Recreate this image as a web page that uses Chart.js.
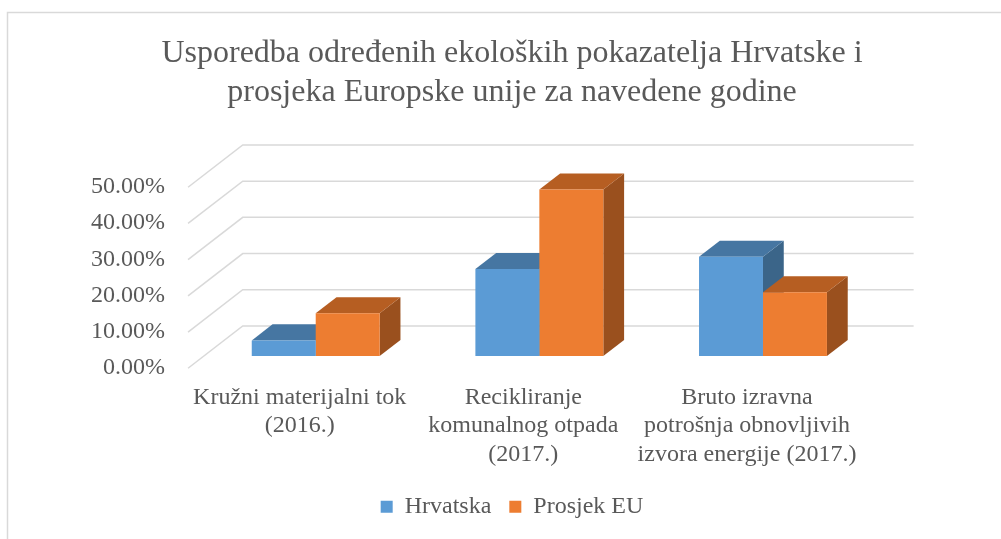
<!DOCTYPE html>
<html>
<head>
<meta charset="utf-8">
<script src="https://cdn.jsdelivr.net/npm/chart.js@4"></script>
<style>
  html, body { margin: 0; padding: 0; background: #fff; }
  #wrap { width: 1001px; height: 539px; }
</style>
</head>
<body>
<div id="wrap"><canvas id="chart" width="1001" height="539"></canvas></div>
<script>
/* ================= DATA ================= */

const categories = [
    ["Kružni materijalni tok", "(2016.)"],
    ["Recikliranje", "komunalnog otpada", "(2017.)"],
    ["Bruto izravna", "potrošnja obnovljivih", "izvora energije (2017.)"]
];
const hrvatska = [4.3, 24.0, 27.4];
const prosjekEU = [11.8, 46.0, 17.6];
const yTicks = [0, 10, 20, 30, 40, 50];

const titleLines = [
    "Usporedba određenih ekoloških pokazatelja Hrvatske i",
    "prosjeka Europske unije za navedene godine"
];

/* ================= STYLE ================= */

const FONT = "'Liberation Serif', 'Times New Roman', serif";
const TEXT = "#595959";
const GRID = "#d9d9d9";

// depth of the 3D box, and where the bars sit inside it
const DX = 54.7, DY = -42.3;
const BAR_PLANE = 0.29, BAR_DEPTH = 0.38;

const shades = [
    { front: "#5B9BD5", top: "#4676A2", side: "#3B6589" },
    { front: "#ED7D31", top: "#B65E22", side: "#9A501E" }
];

/* ================= 3D PLUGIN ================= */

const frame3d = {
    id: "frame3d",
    beforeDraw(chart) {
        const ctx = chart.ctx;
        ctx.save();
        ctx.fillStyle = "#fff";
        ctx.fillRect(0, 0, chart.width, chart.height);
        ctx.strokeStyle = GRID;
        ctx.lineWidth = 1.5;
        ctx.strokeRect(7.5, 12.5, 1100, 600);
        ctx.restore();
    },
    beforeDatasetsDraw(chart) {
        const ctx = chart.ctx;
        const area = chart.chartArea;
        const y = chart.scales.y;

        ctx.save();
        ctx.strokeStyle = GRID;
        ctx.lineWidth = 1.5;
        yTicks.forEach(v => {
            const py = y.getPixelForValue(v);
            const fx = area.left - BAR_PLANE * DX, fy = py - BAR_PLANE * DY;
            const bx = area.left + (1 - BAR_PLANE) * DX, by = py + (1 - BAR_PLANE) * DY;
            const ex = area.right + (1 - BAR_PLANE) * DX;
            ctx.beginPath();
            ctx.moveTo(fx, fy);
            ctx.lineTo(bx, by);
            ctx.lineTo(ex, by);
            ctx.stroke();
        });

        // side + top faces, category by category, so later fronts cover them
        const dx = BAR_DEPTH * DX, dy = BAR_DEPTH * DY;
        categories.forEach((c, i) => {
            chart.data.datasets.forEach((ds, d) => {
                const bar = chart.getDatasetMeta(d).data[i];
                const p = bar.getProps(["x", "y", "base", "width"], true);
                const l = p.x - p.width / 2, r = p.x + p.width / 2;
                const col = shades[d];

                ctx.fillStyle = col.side;
                ctx.beginPath();
                ctx.moveTo(r, p.y);
                ctx.lineTo(r + dx, p.y + dy);
                ctx.lineTo(r + dx, p.base + dy);
                ctx.lineTo(r, p.base);
                ctx.closePath();
                ctx.fill();

                ctx.fillStyle = col.top;
                ctx.beginPath();
                ctx.moveTo(l, p.y);
                ctx.lineTo(r, p.y);
                ctx.lineTo(r + dx, p.y + dy);
                ctx.lineTo(l + dx, p.y + dy);
                ctx.closePath();
                ctx.fill();
            });
        });
        ctx.restore();
    }
};

/* ================= CHART ================= */

new Chart(document.getElementById("chart"), {
    type: "bar",
    data: {
        labels: categories,
        datasets: [
            { label: "Hrvatska", data: hrvatska, backgroundColor: shades[0].front, borderWidth: 0 },
            { label: "Prosjek EU", data: prosjekEU, backgroundColor: shades[1].front, borderWidth: 0 }
        ]
    },
    options: {
        responsive: false,
        animation: false,
        events: [],
        layout: { padding: { left: 23, right: 0, top: 0, bottom: 10.3 } },
        datasets: { bar: { categoryPercentage: 0.572, barPercentage: 1 } },
        plugins: {
            tooltip: { enabled: false },
            title: {
                display: true,
                text: titleLines,
                color: TEXT,
                font: { family: FONT, size: 32, weight: "normal", lineHeight: 1.21875 },
                padding: { top: 34, bottom: 63 }
            },
            legend: {
                position: "bottom",
                labels: {
                    color: TEXT,
                    font: { family: FONT, size: 24 },
                    boxWidth: 12,
                    boxHeight: 12,
                    padding: 18
                }
            }
        },
        scales: {
            x: {
                grid: { display: false, drawTicks: false },
                border: { display: false },
                ticks: {
                    color: TEXT,
                    font: { family: FONT, size: 24, lineHeight: 1.1875 },
                    padding: 27,
                    labelOffset: -16,
                    maxRotation: 0,
                    autoSkip: false
                },
                afterFit(s) { s.height = 120.7; }
            },
            y: {
                min: 0,
                max: 50,
                grid: { display: false, drawTicks: false },
                border: { display: false },
                ticks: {
                    stepSize: 10,
                    color: TEXT,
                    font: { family: FONT, size: 24 },
                    padding: 39,
                    labelOffset: 12,
                    callback: v => v.toFixed(2) + "%"
                },
                afterFit(s) { s.width = 180.9; }
            },
            y2: {
                position: "right",
                grid: { display: false, drawTicks: false },
                border: { display: false },
                ticks: { display: false },
                afterFit(s) { s.width = 126.2; }
            }
        }
    },
    plugins: [frame3d]
});
</script>
</body>
</html>
